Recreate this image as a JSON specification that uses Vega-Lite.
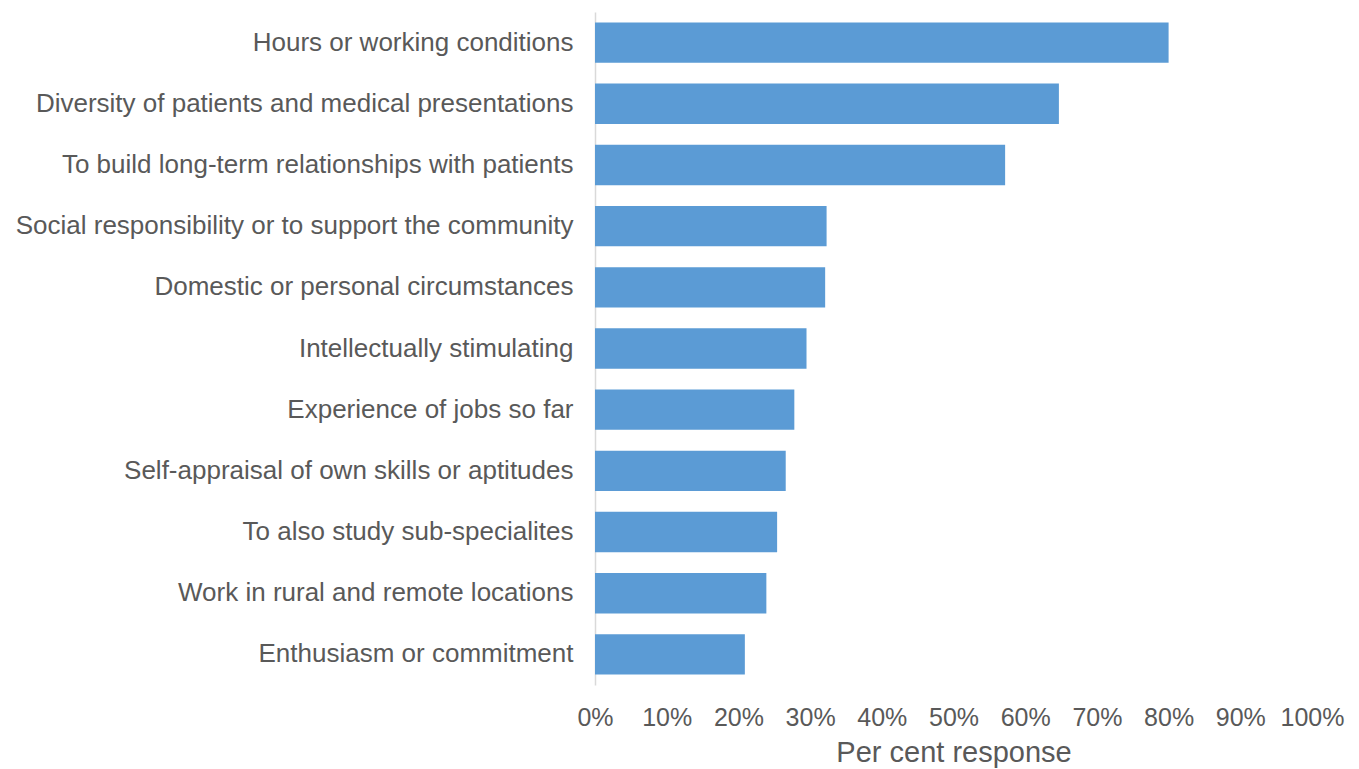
{
  "$schema": "https://vega.github.io/schema/vega-lite/v6.json",
  "autosize": {"type": "none"},
  "width": 717,
  "height": 673,
  "padding": {"left": 595, "top": 12, "right": 47, "bottom": 84},
  "background": "white",
  "config": {"view": {"stroke": null}, "font": "Liberation Sans"},
  "data": {
    "values": [
      {"reason": "Hours or working conditions", "pct": 80.0},
      {"reason": "Diversity of patients and medical presentations", "pct": 64.7},
      {"reason": "To build long-term relationships with patients", "pct": 57.2},
      {"reason": "Social responsibility or to support the community", "pct": 32.3},
      {"reason": "Domestic or personal circumstances", "pct": 32.1},
      {"reason": "Intellectually stimulating", "pct": 29.5},
      {"reason": "Experience of jobs so far", "pct": 27.8},
      {"reason": "Self-appraisal of own skills or aptitudes", "pct": 26.6},
      {"reason": "To also study sub-specialites", "pct": 25.4},
      {"reason": "Work in rural and remote locations", "pct": 23.9},
      {"reason": "Enthusiasm or commitment", "pct": 20.9}
    ]
  },
  "mark": {"type": "bar", "color": "#5B9BD5"},
  "encoding": {
    "y": {
      "field": "reason",
      "type": "nominal",
      "sort": null,
      "scale": {"paddingInner": 0.34, "paddingOuter": 0.17},
      "axis": {
        "title": null,
        "ticks": false,
        "domainColor": "#d9d9d9",
        "domainWidth": 1.5,
        "labelFontSize": 26,
        "labelColor": "#595959",
        "labelPadding": 22,
        "labelLimit": 700
      }
    },
    "x": {
      "field": "pct",
      "type": "quantitative",
      "scale": {"domain": [0, 100], "nice": false},
      "axis": {
        "title": "Per cent response",
        "values": [0, 10, 20, 30, 40, 50, 60, 70, 80, 90, 100],
        "labelExpr": "datum.value + '%'",
        "grid": false,
        "domain": false,
        "ticks": false,
        "labelFontSize": 25,
        "labelColor": "#595959",
        "labelPadding": 20,
        "labelFlush": false,
        "labelOverlap": false,
        "titleFontSize": 29,
        "titleFontWeight": "normal",
        "titleColor": "#595959",
        "titlePadding": 8
      }
    }
  }
}
